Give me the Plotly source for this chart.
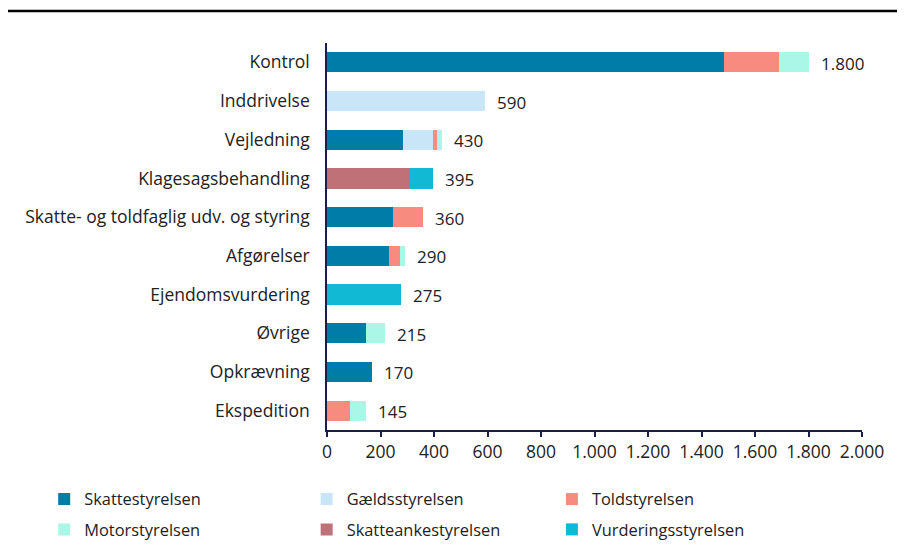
import plotly.graph_objects as go

# Categories, top to bottom
categories = ["Kontrol", "Inddrivelse", "Vejledning", "Klagesagsbehandling",
              "Skatte- og toldfaglig udv. og styring", "Afgørelser",
              "Ejendomsvurdering", "Øvrige", "Opkrævning", "Ekspedition"]

# Values per agency
skattestyrelsen = [1485, 0, 285, 0, 245, 230, 0, 145, 170, 0]
gaeldsstyrelsen = [0, 590, 113, 0, 0, 0, 0, 0, 0, 0]
toldstyrelsen = [205, 0, 14, 0, 115, 42, 0, 0, 0, 85]
motorstyrelsen = [110, 0, 18, 0, 0, 18, 0, 70, 0, 60]
skatteankestyrelsen = [0, 0, 0, 310, 0, 0, 0, 0, 0, 0]
vurderingsstyrelsen = [0, 0, 0, 85, 0, 0, 275, 0, 0, 0]

totals = [1800, 590, 430, 395, 360, 290, 275, 215, 170, 145]

series = [
    ("Skattestyrelsen", skattestyrelsen, "#007CA8", "legend"),
    ("Gældsstyrelsen", gaeldsstyrelsen, "#C9E6F9", "legend2"),
    ("Toldstyrelsen", toldstyrelsen, "#F78B80", "legend3"),
    ("Motorstyrelsen", motorstyrelsen, "#AAF6E7", "legend"),
    ("Skatteankestyrelsen", skatteankestyrelsen, "#C07077", "legend2"),
    ("Vurderingsstyrelsen", vurderingsstyrelsen, "#12B9D5", "legend3"),
]

font_family = "Open Sans, sans-serif"
navy = "#1C1E4A"
txt = "#222222"

fig = go.Figure()
for name, vals, color, leg in series:
    fig.add_trace(go.Bar(
        y=categories, x=vals, name=name, orientation="h",
        marker=dict(color=color, line=dict(width=0)),
        legend=leg, legendgroup=name,
    ))

# total labels to the right of each bar
for cat, tot in zip(categories, totals):
    fig.add_annotation(
        x=tot, y=cat, text=f"{tot:,}".replace(",", "."),
        xanchor="left", yanchor="middle", xshift=10, yshift=-1, showarrow=False,
        font=dict(family=font_family, size=17, color=txt),
    )

legend_common = dict(
    orientation="v", yanchor="top", y=0.1492, xanchor="left",
    xref="container", yref="container",
    font=dict(family=font_family, size=16.4, color=txt),
    traceorder="grouped", tracegroupgap=6, itemwidth=30,
    bgcolor="rgba(0,0,0,0)",
)

fig.update_layout(
    width=905, height=557,
    margin=dict(l=319, r=51, t=35, b=135, autoexpand=False),
    paper_bgcolor="white", plot_bgcolor="white",
    barmode="stack", bargap=0.48,
    separators=",.",
    font=dict(family=font_family, size=17, color=txt),
    showlegend=True,
    legend=dict(legend_common, x=0.040),
    legend2=dict(legend_common, x=0.330),
    legend3=dict(legend_common, x=0.601),
    xaxis=dict(
        range=[0, 2000], dtick=200, tickformat=",d",
        showgrid=False, zeroline=False, automargin=False,
        showline=True, linecolor=navy, linewidth=1.5,
        ticks="outside", ticklen=5, tickcolor=navy, tickwidth=1.5,
        tickfont=dict(family=font_family, size=17.5, color=txt),
    ),
    yaxis=dict(
        categoryorder="array", categoryarray=categories,
        autorange="reversed", automargin=False,
        showgrid=False, zeroline=False,
        showline=True, linecolor=navy, linewidth=1.5,
        ticks="", ticklabelstandoff=12,
        tickfont=dict(family=font_family, size=17.5, color=txt),
    ),
    shapes=[dict(
        type="line", xref="paper", yref="paper",
        x0=-0.62, x1=1.2, y0=1.0827, y1=1.0827,
        line=dict(color="black", width=2.5),
    )],
)

fig.write_html("out.html")
